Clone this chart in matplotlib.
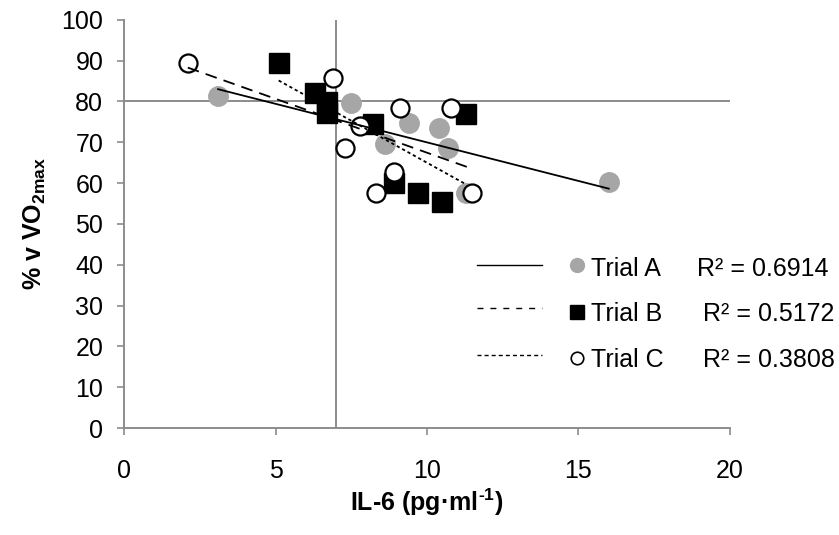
import numpy as np
import matplotlib
matplotlib.use("Agg")
import matplotlib.pyplot as plt
from matplotlib.lines import Line2D

plt.rcParams["font.family"] = ["Liberation Sans", "DejaVu Sans"]
plt.rcParams["mathtext.fontset"] = "custom"
plt.rcParams["mathtext.rm"] = "Liberation Sans"
plt.rcParams["mathtext.bf"] = "Liberation Sans:bold"

# --- Data ---
trial_a_x = [3.1, 7.5, 9.4, 10.4, 10.7, 8.6, 16.0, 11.3]
trial_a_y = [81.3, 79.7, 74.8, 73.5, 68.6, 69.6, 60.3, 57.6]

trial_b_x = [5.1, 6.3, 6.7, 6.7, 8.2, 11.3, 8.9, 9.7, 10.5]
trial_b_y = [89.5, 82.0, 79.9, 77.2, 74.5, 77.0, 60.0, 57.6, 55.4]

trial_c_x = [2.1, 6.9, 9.1, 10.8, 7.8, 7.3, 8.9, 8.3, 11.5]
trial_c_y = [89.5, 85.8, 78.4, 78.4, 74.0, 68.6, 62.7, 57.6, 57.6]

r2_labels = ["R² = 0.6914", "R² = 0.5172", "R² = 0.3808"]
trial_names = ["Trial A", "Trial B", "Trial C"]

ref_x = 7
ref_y = 80

GRAY = "#8c8c8c"
MARK_GRAY = "#a6a6a6"
FS = 18

fig = plt.figure(figsize=(8.39, 5.35), dpi=100)
ax = fig.add_axes([0.148, 0.2, 0.722, 0.763])

# reference lines
ax.axhline(ref_y, color=GRAY, lw=1.4, zorder=1)
ax.axvline(ref_x, color=GRAY, lw=1.4, zorder=1)

# markers
ax.plot(trial_a_x, trial_a_y, "o", ms=14, color=MARK_GRAY, mec=MARK_GRAY, zorder=3)
ax.plot(trial_b_x, trial_b_y, "s", ms=14, color="black", zorder=4)
ax.plot(trial_c_x, trial_c_y, "o", ms=13, mfc="white", mec="black", mew=1.6, zorder=5)

# linear trend lines over each trial's x range
styles = [dict(ls="-"), dict(ls=(0, (1.8, 1.6))), dict(ls=(0, (6.5, 4)))]
for xs, ys, st in zip([trial_a_x, trial_b_x, trial_c_x],
                      [trial_a_y, trial_b_y, trial_c_y], styles):
    k, b = np.polyfit(xs, ys, 1)
    xx = np.array([min(xs), max(xs)])
    ax.plot(xx, k * xx + b, color="black", lw=1.3, zorder=6, **st)

ax.set_xlim(0, 20)
ax.set_ylim(0, 100)
ax.set_xticks(np.arange(0, 21, 5))
ax.set_yticks(np.arange(0, 101, 10))
for s in ["top", "right"]:
    ax.spines[s].set_visible(False)
for s in ["left", "bottom"]:
    ax.spines[s].set_color(GRAY)
    ax.spines[s].set_linewidth(1.4)
ax.tick_params(axis="both", colors=GRAY, labelcolor="black", labelsize=FS,
               length=5, width=1.2, direction="out")
ax.tick_params(axis="x", pad=17)
ax.tick_params(axis="y", pad=10)

ax.set_xlabel("IL-6 (pg·ml$^{\\mathbf{\u2010}\\mathbf{1}}$)", fontsize=FS,
              fontweight="bold", labelpad=3)
ax.set_ylabel(r"% v VO$_{\mathbf{2max}}$", fontsize=FS, fontweight="bold", labelpad=10)

# hand-made legend (line sample, marker, name, R²)
line_y = [0.400, 0.294, 0.179]
mark_y = [0.400, 0.284, 0.172]
text_y = [0.390, 0.279, 0.167]
r2_x = [0.946, 0.955, 0.955]
leg_styles = [dict(ls="-"), dict(ls=(0, (4.3, 5))), dict(ls=(0, (2.9, 2.2)))]
leg_marks = [dict(marker="o", color=MARK_GRAY, mec=MARK_GRAY, ms=10),
             dict(marker="s", color="black", ms=10),
             dict(marker="o", mfc="white", mec="black", mew=1.2, ms=9)]
for i in range(3):
    ax.add_line(Line2D([0.582, 0.690], [line_y[i]] * 2, transform=ax.transAxes,
                       color="black", lw=1.0, clip_on=False, **leg_styles[i]))
    ax.add_line(Line2D([0.748], [mark_y[i]], transform=ax.transAxes, ls="none",
                       clip_on=False, **leg_marks[i]))
    ax.text(0.771, text_y[i], trial_names[i], transform=ax.transAxes,
            fontsize=FS, va="center")
    ax.text(r2_x[i], text_y[i], r2_labels[i], transform=ax.transAxes,
            fontsize=FS, va="center")

fig.savefig("out.png", dpi=100)
